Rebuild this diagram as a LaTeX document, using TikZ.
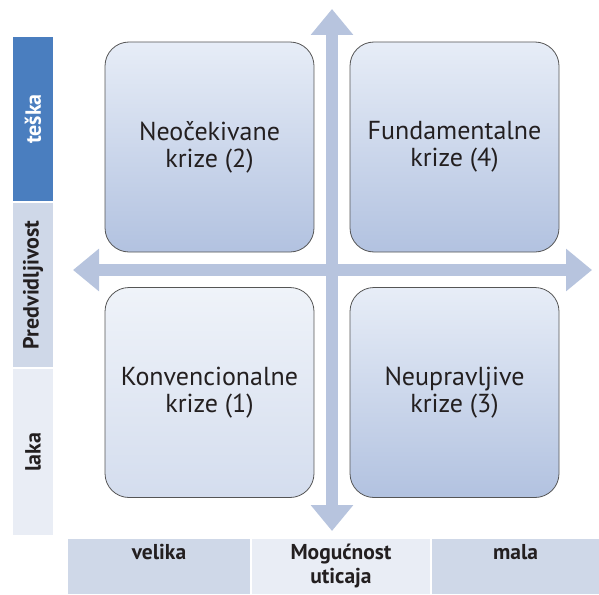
\documentclass[tikz,border=0pt]{standalone}
\usepackage{fontspec}
\setmainfont{PT Sans}
\usetikzlibrary{arrows.meta}
\definecolor{axisblue}{HTML}{B7C4DE}
\definecolor{darkcell}{HTML}{4A7EBF}
\definecolor{midcell}{HTML}{CFD8E8}
\definecolor{lightcell}{HTML}{E9EDF5}
\definecolor{boxtop}{HTML}{E7EDF7}
\definecolor{boxbottom}{HTML}{B2C2E0}
\definecolor{paletop}{HTML}{EFF3F9}
\definecolor{palebottom}{HTML}{D4DDEE}
\definecolor{labeltext}{HTML}{231F20}
\definecolor{boxline}{HTML}{555555}
\tikzset{
  axis/.style={draw=axisblue, line width=12pt,
    {Triangle[length=26pt,width=41pt]}-{Triangle[length=26pt,width=41pt]}},
  quad/.style={draw=boxline, line width=0.8pt, rounded corners=24pt,
    minimum width=209pt, minimum height=210pt, inner sep=0pt,
    align=center, text=labeltext,
    font=\fontsize{26}{27}\selectfont},
  sidecell/.style={rotate=90, minimum width=164pt, minimum height=40pt,
    inner sep=0pt, text=labeltext, font=\fontsize{22}{24}\selectfont\bfseries},
  bottomcell/.style={minimum height=55pt, inner sep=0pt},
  bottomtext/.style={anchor=north, inner sep=0pt, align=center, text=labeltext,
    font=\fontsize{21.5}{24.5}\selectfont\bfseries},
}
\begin{document}
\begin{tikzpicture}[x=1pt, y=-1pt]
  \useasboundingbox (0,0) rectangle (599,594);
  % axes
  \coordinate (top) at (332,9);
  \coordinate (bottom) at (332,531);
  \coordinate (left) at (73,270);
  \coordinate (right) at (592,270);
  \draw[axis] (left) -- (right);
  \draw[axis] (top) -- (bottom);
  % four quadrants
  \node[quad, top color=boxtop, bottom color=boxbottom] (q2) at (209.5,147)
    {Neočekivane\\krize (2)};
  \node[quad, top color=boxtop, bottom color=boxbottom] (q4) at (454.5,147)
    {Fundamentalne\\krize (4)};
  \node[quad, top color=paletop, bottom color=palebottom] (q1) at (209.5,392.5)
    {Konvencionalne\\krize (1)};
  \node[quad, top color=boxtop, bottom color=boxbottom] (q3) at (454.5,392.5)
    {Neupravljive\\krize (3)};
  % predictability scale
  \node[sidecell, fill=darkcell, text=white] (hard) at (33,119) {teška};
  \node[sidecell, fill=midcell] (pred) at (33,285) {Predvidljivost};
  \node[sidecell, fill=lightcell, minimum width=166pt] (easy) at (33,452) {laka};
  % influence scale
  \node[bottomcell, fill=midcell, minimum width=182pt] (big) at (159,566.5) {};
  \node[bottomcell, fill=lightcell, minimum width=178pt] (infl) at (341,566.5) {};
  \node[bottomcell, fill=midcell, minimum width=167pt] (small) at (515.5,566.5) {};
  \node[bottomtext] at ([yshift=-5pt]big.north) {velika};
  \node[bottomtext] at ([yshift=-5pt]infl.north) {Mogućnost\\uticaja};
  \node[bottomtext] at ([yshift=-5pt]small.north) {mala};
\end{tikzpicture}
\end{document}
